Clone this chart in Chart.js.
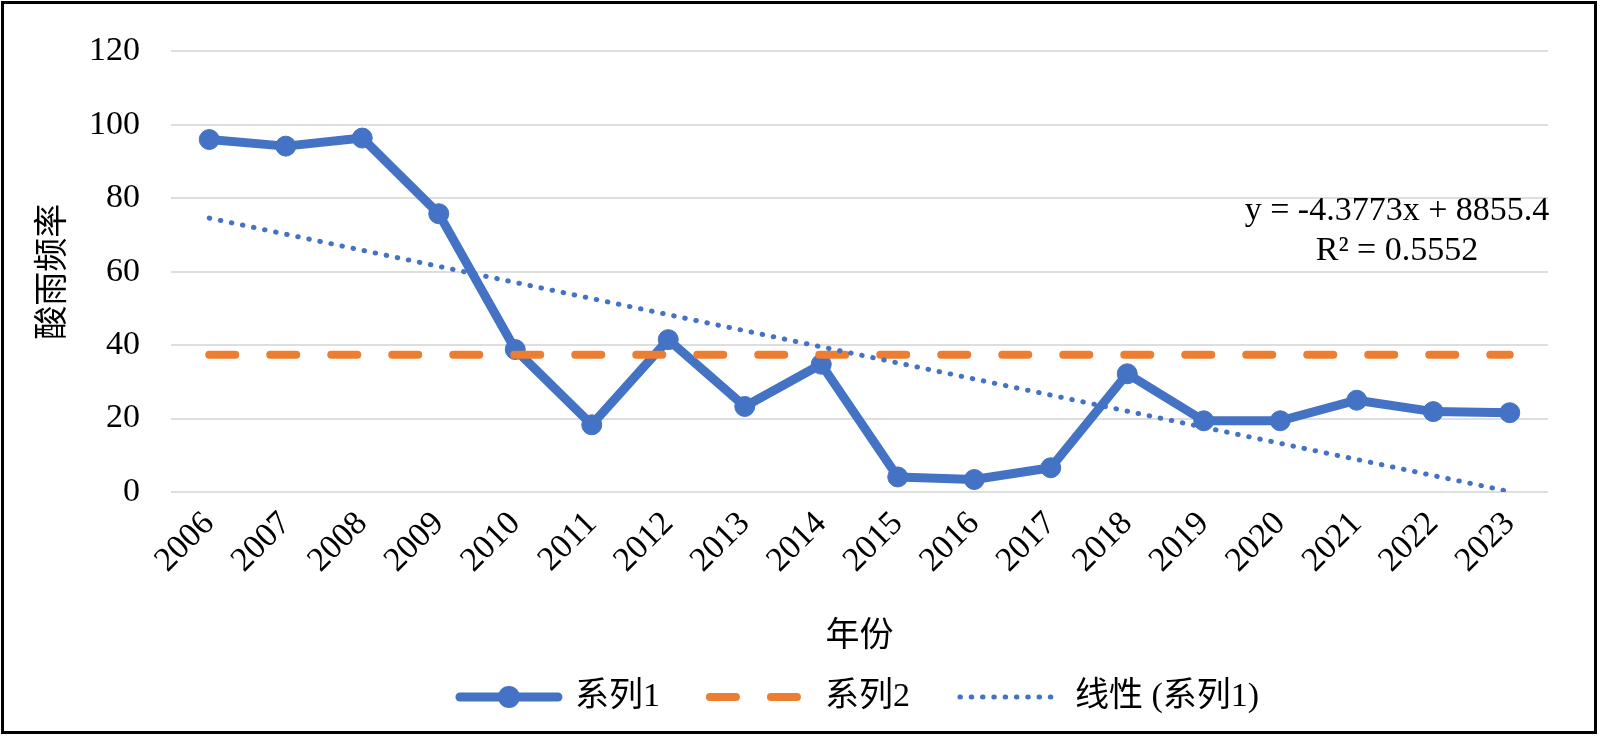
<!DOCTYPE html>
<html>
<head>
<meta charset="utf-8">
<script src="https://cdn.jsdelivr.net/npm/chart.js@4.4.1/dist/chart.umd.min.js"></script>
<style>
  html, body { margin: 0; padding: 0; background: #fff; }
  #wrap { position: relative; width: 1600px; height: 736px; }
  #acid { display: block; }
  #frame { position: absolute; left: 1px; top: 1px; width: 1596px; height: 733px;
           box-sizing: border-box; border: 3px solid #000; pointer-events: none; }
</style>
</head>
<body>
<div id="wrap">
  <canvas id="acid" width="1600" height="736"></canvas>
  <div id="frame"></div>
</div>
<script>
    var years = ['2006', '2007', '2008', '2009', '2010', '2011', '2012', '2013', '2014',
                 '2015', '2016', '2017', '2018', '2019', '2020', '2021', '2022', '2023'];
    // 系列1: acid rain frequency per year
    var series1 = [96.0, 94.2, 96.4, 75.8, 38.8, 18.3, 41.5, 23.3, 34.8,
                   4.1, 3.4, 6.6, 32.2, 19.4, 19.4, 25.0, 21.9, 21.6];
    // 系列2: flat line (the average)
    var series2 = [37.4, 37.4, 37.4, 37.4, 37.4, 37.4, 37.4, 37.4, 37.4,
                   37.4, 37.4, 37.4, 37.4, 37.4, 37.4, 37.4, 37.4, 37.4];
    // 线性 (系列1): trend line read at its two ends
    var trendYears = ['2006', '2023'];
    var trendValues = [74.6, 0.1];
    var equationLines = ['y = -4.3773x + 8855.4', 'R² = 0.5552'];
    var seriesNames = ['系列1', '系列2', '线性 (系列1)'];

    var serif = "'Liberation Serif', 'Times New Roman', 'Noto Sans CJK SC', serif";
    var blue = '#4472C4';
    var orange = '#ED7D31';

    var trendPoints = [];
    for (var i = 0; i < trendYears.length; i++) {
        trendPoints.push({ x: trendYears[i], y: trendValues[i] });
    }

    // equation text + circle marker on the first legend item
    var extras = {
        id: 'extras',
        afterDraw: function(chart) {
            var ctx = chart.ctx;
            var area = chart.chartArea;
            ctx.save();
            ctx.font = '34px ' + serif;
            ctx.fillStyle = '#000';
            ctx.textAlign = 'center';
            ctx.textBaseline = 'alphabetic';
            var cx = area.right - 151;
            ctx.fillText(equationLines[0], cx, area.top + 169);
            ctx.fillText(equationLines[1], cx, area.top + 209);

            var hb = chart.legend.legendHitBoxes[0];
            if (hb) {
                ctx.beginPath();
                ctx.fillStyle = blue;
                ctx.arc(hb.left + 49, hb.top + hb.height / 2, 11, 0, Math.PI * 2);
                ctx.fill();
            }
            ctx.restore();
        }
    };

    new Chart(document.getElementById('acid'), {
        type: 'line',
        data: {
            labels: years,
            datasets: [
                {
                    label: seriesNames[0],
                    data: series1,
                    borderColor: blue,
                    backgroundColor: blue,
                    borderWidth: 9,
                    borderCapStyle: 'round',
                    borderJoinStyle: 'round',
                    pointRadius: 10,
                    pointBackgroundColor: blue,
                    pointBorderColor: blue,
                    pointBorderWidth: 1,
                    tension: 0,
                    order: 2
                },
                {
                    label: seriesNames[1],
                    data: series2,
                    borderColor: orange,
                    backgroundColor: orange,
                    borderWidth: 8,
                    borderDash: [26, 35],
                    borderCapStyle: 'round',
                    pointRadius: 0,
                    order: 1
                },
                {
                    label: seriesNames[2],
                    data: trendPoints,
                    borderColor: blue,
                    backgroundColor: blue,
                    borderWidth: 5,
                    borderDash: [0.5, 10.8],
                    borderCapStyle: 'round',
                    pointRadius: 0,
                    order: 0
                }
            ]
        },
        options: {
            responsive: false,
            animation: false,
            devicePixelRatio: 1,
            layout: { padding: { left: 0, top: 47, right: 52, bottom: 12 } },
            plugins: {
                tooltip: { enabled: false },
                legend: {
                    position: 'bottom',
                    fullSize: false,
                    labels: {
                        usePointStyle: true,
                        pointStyle: 'line',
                        pointStyleWidth: 98,
                        padding: 50,
                        color: '#000',
                        font: { family: serif, size: 34 },
                        // legend lines taken from the dataset lines, in dataset order
                        generateLabels: function(chart) {
                            return chart.data.datasets.map(function(ds, i) {
                                return {
                                    text: ds.label,
                                    datasetIndex: i,
                                    fillStyle: ds.borderColor,
                                    strokeStyle: ds.borderColor,
                                    lineWidth: ds.borderWidth,
                                    lineDash: ds.borderDash || [],
                                    lineCap: 'round',
                                    pointStyle: 'line',
                                    fontColor: '#000',
                                    hidden: false
                                };
                            });
                        }
                    }
                }
            },
            scales: {
                x: {
                    type: 'category',
                    offset: true,
                    grid: { display: false },
                    border: { display: false },
                    ticks: {
                        color: '#000',
                        font: { family: serif, size: 34 },
                        maxRotation: 45,
                        minRotation: 45,
                        autoSkip: false,
                        padding: 4
                    },
                    title: {
                        display: true,
                        text: '年份',
                        color: '#000',
                        font: { family: serif, size: 34 },
                        padding: { top: 0, bottom: -27 }
                    },
                    afterFit: function(scale) { scale.height = 138; }
                },
                y: {
                    min: 0,
                    max: 120,
                    grid: { color: '#DEDEDE', lineWidth: 2, drawTicks: false },
                    border: { display: false },
                    ticks: {
                        stepSize: 20,
                        color: '#000',
                        font: { family: serif, size: 34 },
                        padding: 31
                    },
                    title: {
                        display: true,
                        text: '酸雨频率',
                        color: '#000',
                        font: { family: serif, size: 34 },
                        padding: { top: 34, bottom: 0 }
                    },
                    afterFit: function(scale) { scale.width = 171; }
                }
            }
        },
        plugins: [extras]
    });
</script>
</body>
</html>
